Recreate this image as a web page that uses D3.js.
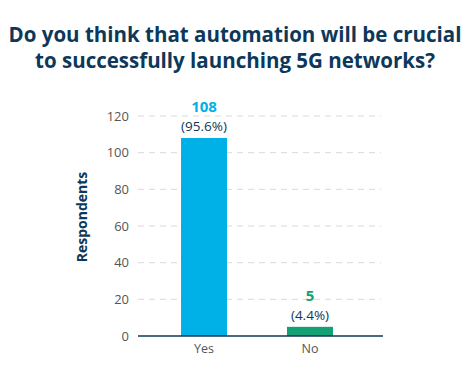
<!DOCTYPE html>
<html><head><meta charset="utf-8">
<script src="https://cdn.jsdelivr.net/npm/d3@7"></script>
<style>body{margin:0;background:#fff}svg{display:block}</style>
</head><body>
<script>
const titleLines = ["Do you think that automation will be crucial", "to successfully launching 5G networks?"];
const categories = ["Yes", "No"];
const values = [108, 5];
const percents = ["(95.6%)", "(4.4%)"];
const colors = ["#00b1e7", "#13a074"];
const yTicks = [0, 20, 40, 60, 80, 100, 120];
const yLabel = "Respondents";

const W = 468, H = 373;
const svg = d3.select("body").append("svg").attr("width", W).attr("height", H);
const font = "'Open Sans', sans-serif";
const navy = "#0d3859";

const y = d3.scaleLinear().domain([0, 120]).range([336, 116]);
const x = d3.scaleBand().domain(categories).range([138, 376]).paddingInner(0.566).paddingOuter(0.406);

// title
const tl = [34.5, 60.5];
titleLines.forEach((t, i) => {
  svg.append("text").attr("x", 235).attr("y", tl[i]).attr("dy", "0.35em")
    .attr("text-anchor", "middle").attr("font-family", font).attr("font-weight", 700)
    .attr("font-size", 20.5).attr("fill", navy).text(t);
});

// grid
svg.append("g").selectAll("line").data(yTicks.filter(d => d > 0)).join("line")
  .attr("x1", 138).attr("x2", 381).attr("y1", d => y(d)).attr("y2", d => y(d))
  .attr("stroke", "#d9d9d9").attr("stroke-width", 1).attr("stroke-dasharray", "6,5");

// y axis
const yAxis = d3.axisLeft(y).tickValues(yTicks).tickSize(0).tickPadding(0);
const ga = svg.append("g").attr("transform", "translate(129,0)").call(yAxis);
ga.select(".domain").remove();
ga.selectAll("text").attr("font-family", font).attr("font-size", 13).attr("fill", "#555");

// bars
svg.append("g").selectAll("rect").data(values).join("rect")
  .attr("x", (d, i) => x(categories[i])).attr("width", x.bandwidth())
  .attr("y", d => y(d)).attr("height", d => y(0) - y(d))
  .attr("fill", (d, i) => colors[i]);

// baseline
svg.append("line").attr("x1", 138).attr("x2", 383).attr("y1", y(0)).attr("y2", y(0))
  .attr("stroke", navy).attr("stroke-width", 1.5);

// x axis labels
const xAxis = d3.axisBottom(x).tickSize(0).tickPadding(8);
const gx = svg.append("g").attr("transform", `translate(0,${y(0)})`).call(xAxis);
gx.select(".domain").remove();
gx.selectAll("text").attr("font-family", font).attr("font-size", 12.5).attr("fill", "#555");

// value labels
values.forEach((v, i) => {
  const cx = x(categories[i]) + x.bandwidth() / 2;
  svg.append("text").attr("x", cx).attr("y", y(v) - 31).attr("dy", "0.35em")
    .attr("text-anchor", "middle").attr("font-family", font).attr("font-weight", 700)
    .attr("font-size", 15).attr("fill", colors[i]).text(v);
  svg.append("text").attr("x", cx).attr("y", y(v) - 12).attr("dy", "0.35em")
    .attr("text-anchor", "middle").attr("font-family", font)
    .attr("font-size", 13.5).attr("fill", navy).text(percents[i]);
});

// y label
svg.append("text").attr("transform", "translate(82,217) rotate(-90)").attr("dy", "0.35em")
  .attr("text-anchor", "middle").attr("font-family", font).attr("font-weight", 700)
  .attr("font-size", 14).attr("fill", navy).text(yLabel);
</script>
</body></html>
